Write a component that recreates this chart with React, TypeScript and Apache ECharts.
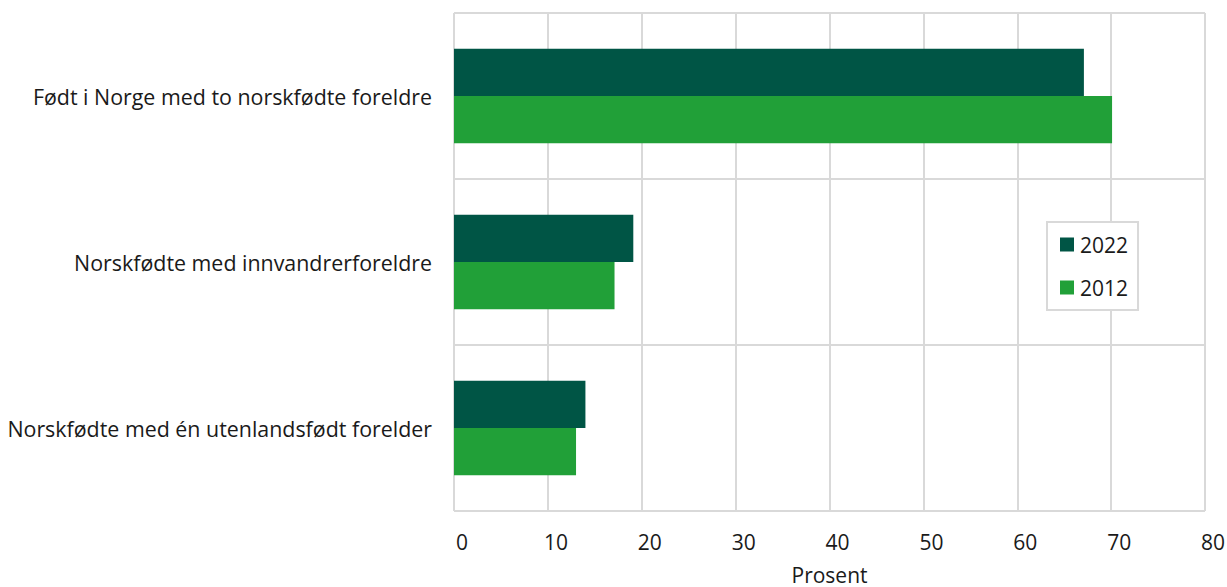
import React, { useEffect, useRef } from "react";
import * as echarts from "echarts";

const categories = [
  "Født i Norge med to norskfødte foreldre",
  "Norskfødte med innvandrerforeldre",
  "Norskfødte med én utenlandsfødt forelder",
];
const values2022 = [67.1, 19.1, 14.0];
const values2012 = [70.1, 17.1, 13.0];
const xTicks = [0, 10, 20, 30, 40, 50, 60, 70, 80];

const FONT = "'Open Sans', 'Noto Sans', sans-serif";
const TXT = "#1a1a1a";

export default function App() {
  const ref = useRef<HTMLDivElement>(null);
  useEffect(() => {
    if (!ref.current) return;
    const chart = echarts.init(ref.current, undefined, { renderer: "svg", width: 1227, height: 587 });
    chart.setOption({
      animation: false,
      textStyle: { fontFamily: FONT },
      grid: { left: 454, right: 22, top: 13, bottom: 76, containLabel: false, outerBoundsMode: "none" },
      legend: {
        orient: "vertical",
        left: 1047,
        top: 222,
        data: ["2022", "2012"],
        icon: "rect",
        itemWidth: 14,
        itemHeight: 14,
        itemGap: 22,
        padding: [12, 10, 12, 13],
        borderColor: "#d9d9d9",
        borderWidth: 2,
        backgroundColor: "#ffffff",
        textStyle: { fontFamily: FONT, fontSize: 21, color: TXT, padding: [0, 0, 0, 1] },
      },
      xAxis: {
        type: "value",
        min: xTicks[0],
        max: xTicks[xTicks.length - 1],
        interval: 10,
        name: "Prosent",
        nameLocation: "middle",
        nameGap: 53,
        nameTextStyle: { fontFamily: FONT, fontSize: 21, color: TXT },
        axisLine: { show: false },
        axisTick: { show: false },
        axisLabel: {
          fontFamily: FONT,
          fontSize: 21,
          color: TXT,
          margin: 20,
          align: "center",
          padding: [0, 0, 0, 16],
        },
        splitLine: { show: true, lineStyle: { color: "#d9d9d9", width: 2 } },
      },
      yAxis: {
        type: "category",
        data: categories,
        inverse: true,
        axisLine: { show: false },
        axisTick: { show: false },
        axisLabel: { fontFamily: FONT, fontSize: 21.4, color: TXT, margin: 22 },
        splitLine: { show: true, lineStyle: { color: "#d9d9d9", width: 2 } },
      },
      series: [
        {
          name: "2022",
          type: "bar",
          data: values2022,
          itemStyle: { color: "#005545" },
          barGap: "0%",
          barCategoryGap: "43%",
        },
        {
          name: "2012",
          type: "bar",
          data: values2012,
          itemStyle: { color: "#21a038" },
          barGap: "0%",
          barCategoryGap: "43%",
        },
      ],
    });
    return () => chart.dispose();
  }, []);
  return <div ref={ref} style={{ width: 1227, height: 587, position: "absolute", left: 0, top: 0 }} />;
}
